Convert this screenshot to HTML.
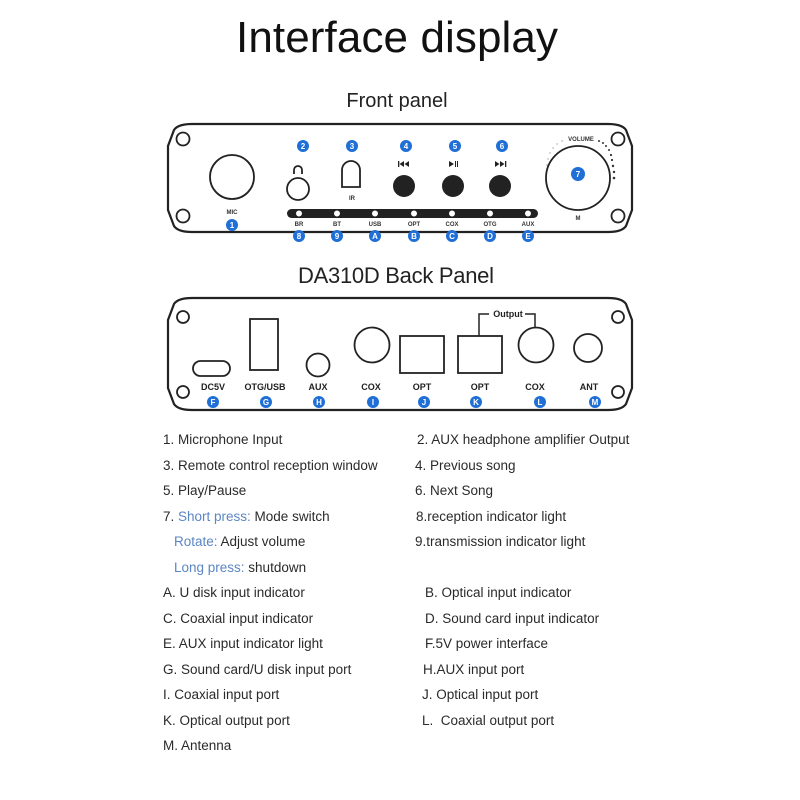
<!DOCTYPE html>
<html><head><meta charset="utf-8"><style>
html,body{margin:0;padding:0;background:#fff;}
svg{display:block;}
text{font-family:"Liberation Sans",sans-serif;}
.b{fill:#1f6fd6;}
.bt{fill:#fff;font-size:8px;font-weight:bold;text-anchor:middle;}
.sm{font-size:6px;fill:#333;text-anchor:middle;font-weight:bold;}
.lb{font-size:9px;fill:#222;text-anchor:middle;font-weight:bold;}
.t{font-size:13.5px;fill:#2a2a2a;}
.bl{fill:#5b86c4;}
</style></head><body>
<svg width="800" height="800" viewBox="0 0 800 800" xmlns="http://www.w3.org/2000/svg">
<text x="397" y="52" font-size="44" text-anchor="middle" textLength="322" fill="#111">Interface display</text>
<text x="397" y="107" font-size="20" text-anchor="middle" fill="#222">Front panel</text>

<path d="M192,124 L608,124 Q622,124 626,130 L632,146 L632,210 L626,226 Q622,232 608,232 L192,232 Q178,232 174,226 L168,210 L168,146 L174,130 Q178,124 192,124 Z" fill="none" stroke="#222" stroke-width="2.2"/>
<g fill="none" stroke="#222" stroke-width="1.8">
<circle cx="183" cy="139" r="6.5"/><circle cx="618" cy="139" r="6.5"/>
<circle cx="183" cy="216" r="6.5"/><circle cx="618" cy="216" r="6.5"/>
<circle cx="232" cy="177" r="22"/>
<circle cx="298" cy="189" r="11"/>
<path d="M342,187 L342,170 A9,9 0 0 1 360,170 L360,187 Z"/>
<circle cx="578" cy="178" r="32"/>
<path d="M294,174 L294,170 A4,4 0 0 1 302,170 L302,174"/>
</g>
<text x="232" y="214" class="sm">MIC</text>
<text x="352" y="200" class="sm">IR</text>
<text x="581" y="141" class="sm">VOLUME</text>
<text x="578" y="220" class="sm">M</text>
<g fill="#222">
<circle cx="404" cy="186" r="11"/><circle cx="453" cy="186" r="11"/><circle cx="500" cy="186" r="11"/>
<rect x="398" y="161" width="1.3" height="6"/><path d="M404,161 L399.5,164 L404,167 Z M409,161 L404.5,164 L409,167 Z"/>
<path d="M449,161 L449,167 L454,164 Z"/><rect x="455" y="161" width="1" height="6"/><rect x="457" y="161" width="1" height="6"/>
<path d="M495,161 L499.5,164 L495,167 Z M500,161 L504.5,164 L500,167 Z"/><rect x="505" y="161" width="1.3" height="6"/>
</g>
<g fill="#333">
<circle cx="599" cy="141" r="1"/><circle cx="603" cy="143" r="1"/><circle cx="606" cy="146" r="1"/><circle cx="609" cy="150" r="1"/><circle cx="611" cy="155" r="1.1"/><circle cx="612" cy="160" r="1.1"/><circle cx="613" cy="166" r="1.2"/><circle cx="614" cy="172" r="1.2"/><circle cx="614" cy="178" r="1.3"/>
<circle cx="562" cy="141" r=".5"/><circle cx="557" cy="144" r=".5"/><circle cx="553" cy="148" r=".5"/><circle cx="550" cy="153" r=".5"/><circle cx="548" cy="159" r=".5"/><circle cx="547" cy="165" r=".5"/>
</g>
<rect x="287" y="209" width="251" height="9" rx="4.5" fill="#222"/>
<g fill="#fff" stroke="#222" stroke-width="1">
<circle cx="299" cy="213.5" r="3.5"/><circle cx="337" cy="213.5" r="3.5"/><circle cx="375" cy="213.5" r="3.5"/><circle cx="414" cy="213.5" r="3.5"/><circle cx="452" cy="213.5" r="3.5"/><circle cx="490" cy="213.5" r="3.5"/><circle cx="528" cy="213.5" r="3.5"/>
</g>
<text x="299" y="226" class="sm">BR</text><text x="337" y="226" class="sm">BT</text><text x="375" y="226" class="sm">USB</text><text x="414" y="226" class="sm">OPT</text><text x="452" y="226" class="sm">COX</text><text x="490" y="226" class="sm">OTG</text><text x="528" y="226" class="sm">AUX</text>
<g>
<circle class="b" cx="232" cy="225" r="6"/><text class="bt" x="232" y="228">1</text>
<circle class="b" cx="303" cy="146" r="6"/><text class="bt" x="303" y="149">2</text>
<circle class="b" cx="352" cy="146" r="6"/><text class="bt" x="352" y="149">3</text>
<circle class="b" cx="406" cy="146" r="6"/><text class="bt" x="406" y="149">4</text>
<circle class="b" cx="455" cy="146" r="6"/><text class="bt" x="455" y="149">5</text>
<circle class="b" cx="502" cy="146" r="6"/><text class="bt" x="502" y="149">6</text>
<circle class="b" cx="578" cy="174" r="7"/><text class="bt" x="578" y="177">7</text>
<circle class="b" cx="299" cy="236" r="6"/><text class="bt" x="299" y="239">8</text>
<circle class="b" cx="337" cy="236" r="6"/><text class="bt" x="337" y="239">9</text>
<circle class="b" cx="375" cy="236" r="6"/><text class="bt" x="375" y="239">A</text>
<circle class="b" cx="414" cy="236" r="6"/><text class="bt" x="414" y="239">B</text>
<circle class="b" cx="452" cy="236" r="6"/><text class="bt" x="452" y="239">C</text>
<circle class="b" cx="490" cy="236" r="6"/><text class="bt" x="490" y="239">D</text>
<circle class="b" cx="528" cy="236" r="6"/><text class="bt" x="528" y="239">E</text>
</g>

<text x="396" y="283" font-size="22" text-anchor="middle" textLength="196" fill="#222">DA310D Back Panel</text>

<path d="M192,298 L608,298 Q622,298 626,304 L632,320 L632,388 L626,404 Q622,410 608,410 L192,410 Q178,410 174,404 L168,388 L168,320 L174,304 Q178,298 192,298 Z" fill="none" stroke="#222" stroke-width="2.2"/>
<g fill="none" stroke="#222" stroke-width="1.8">
<circle cx="183" cy="317" r="6"/><circle cx="618" cy="317" r="6"/>
<circle cx="183" cy="392" r="6"/><circle cx="618" cy="392" r="6"/>
<rect x="193" y="361" width="37" height="15" rx="7.5"/>
<rect x="250" y="319" width="28" height="51"/>
<circle cx="318" cy="365" r="11.5"/>
<circle cx="372" cy="345" r="17.5"/>
<rect x="400" y="336" width="44" height="37"/>
<rect x="458" y="336" width="44" height="37"/>
<circle cx="536" cy="345" r="17.5"/>
<circle cx="588" cy="348" r="14"/>
<path d="M479,336 L479,314 L489,314 M525,314 L535,314 L535,327" stroke-width="1.5"/>
</g>
<text x="508" y="317" font-size="9" font-weight="bold" text-anchor="middle" fill="#222">Output</text>
<text x="213" y="390" class="lb">DC5V</text>
<text x="265" y="390" class="lb">OTG/USB</text>
<text x="318" y="390" class="lb">AUX</text>
<text x="371" y="390" class="lb">COX</text>
<text x="422" y="390" class="lb">OPT</text>
<text x="480" y="390" class="lb">OPT</text>
<text x="535" y="390" class="lb">COX</text>
<text x="589" y="390" class="lb">ANT</text>
<g>
<circle class="b" cx="213" cy="402" r="6"/><text class="bt" x="213" y="405">F</text>
<circle class="b" cx="266" cy="402" r="6"/><text class="bt" x="266" y="405">G</text>
<circle class="b" cx="319" cy="402" r="6"/><text class="bt" x="319" y="405">H</text>
<circle class="b" cx="373" cy="402" r="6"/><text class="bt" x="373" y="405">I</text>
<circle class="b" cx="424" cy="402" r="6"/><text class="bt" x="424" y="405">J</text>
<circle class="b" cx="476" cy="402" r="6"/><text class="bt" x="476" y="405">K</text>
<circle class="b" cx="540" cy="402" r="6"/><text class="bt" x="540" y="405">L</text>
<circle class="b" cx="595" cy="402" r="6"/><text class="bt" x="595" y="405">M</text>
</g>

<g>
<text class="t" x="163" y="444">1. Microphone Input</text>
<text class="t" x="417" y="444">2. AUX headphone amplifier Output</text>
<text class="t" x="163" y="470">3. Remote control reception window</text>
<text class="t" x="415" y="470">4. Previous song</text>
<text class="t" x="163" y="495">5. Play/Pause</text>
<text class="t" x="415" y="495">6. Next Song</text>
<text class="t" x="163" y="521">7. <tspan class="bl">Short press:</tspan> Mode switch</text>
<text class="t" x="416" y="521">8.reception indicator light</text>
<text class="t" x="174" y="546"><tspan class="bl">Rotate:</tspan> Adjust volume</text>
<text class="t" x="415" y="546">9.transmission indicator light</text>
<text class="t" x="174" y="572"><tspan class="bl">Long press:</tspan> shutdown</text>
<text class="t" x="163" y="597">A. U disk input indicator</text>
<text class="t" x="425" y="597">B. Optical input indicator</text>
<text class="t" x="163" y="623">C. Coaxial input indicator</text>
<text class="t" x="425" y="623">D. Sound card input indicator</text>
<text class="t" x="163" y="648">E. AUX input indicator light</text>
<text class="t" x="425" y="648">F.5V power interface</text>
<text class="t" x="163" y="674">G. Sound card/U disk input port</text>
<text class="t" x="423" y="674">H.AUX input port</text>
<text class="t" x="163" y="699">I. Coaxial input port</text>
<text class="t" x="422" y="699">J. Optical input port</text>
<text class="t" x="163" y="725">K. Optical output port</text>
<text class="t" x="422" y="725">L.&#160; Coaxial output port</text>
<text class="t" x="163" y="750">M. Antenna</text>
</g>
</svg>
</body></html>
